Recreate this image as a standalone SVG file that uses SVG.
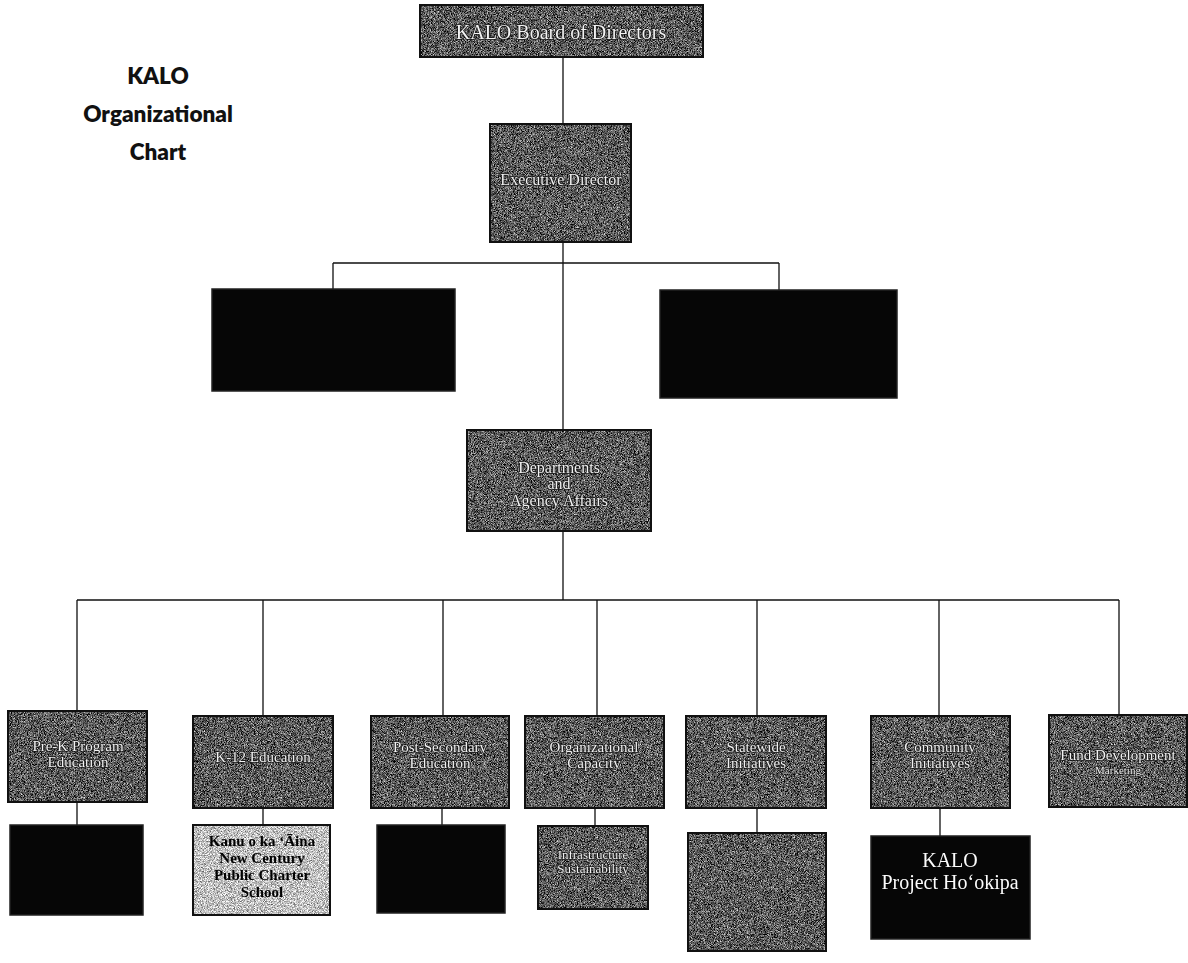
<svg xmlns="http://www.w3.org/2000/svg" width="1188" height="963" viewBox="0 0 1188 963">
<defs>
<filter id="grain" x="0" y="0" width="100%" height="100%" filterUnits="objectBoundingBox" color-interpolation-filters="sRGB">
<feTurbulence type="fractalNoise" baseFrequency="1.3" numOctaves="1" seed="4" result="n"/>
<feColorMatrix in="n" type="matrix" values="1.8 0 0 0 -0.55  1.8 0 0 0 -0.55  1.8 0 0 0 -0.55  0 0 0 0 1" result="t"/>
<feComposite in="t" in2="SourceGraphic" operator="in"/>
</filter>
<filter id="grainLight" x="0" y="0" width="100%" height="100%" filterUnits="objectBoundingBox" color-interpolation-filters="sRGB">
<feTurbulence type="fractalNoise" baseFrequency="1.3" numOctaves="1" seed="7" result="n"/>
<feColorMatrix in="n" type="matrix" values="1.5 0 0 0 0.0  1.5 0 0 0 0.0  1.5 0 0 0 0.0  0 0 0 0 1" result="t"/>
<feComposite in="t" in2="SourceGraphic" operator="in"/>
</filter>
</defs>
<style>
.g{fill:#fff;filter:url(#grain)}
.gl{fill:#fff;filter:url(#grainLight)}
.frame{fill:none;stroke:#111;stroke-width:2}
.blk{fill:#060606;stroke:#222;stroke-width:1.5}
.t{font-family:"Liberation Serif",serif;fill:#f4f4f4;stroke:#1a1a1a;stroke-width:1.6;stroke-linejoin:round;paint-order:stroke;text-anchor:middle;font-size:15px}
.tb{font-family:"Liberation Serif",serif;fill:#000;font-weight:bold;text-anchor:middle;font-size:15px}
.tw{font-family:"Liberation Serif",serif;fill:#fff;text-anchor:middle;font-size:20px}
.title{font-family:Lato,"Open Sans",sans-serif;font-weight:800;fill:#111;text-anchor:middle;font-size:22.5px}
.c{stroke:#111;stroke-width:1.3;fill:none}
.labels{opacity:0.99}
</style>
<rect width="1188" height="963" fill="#fff"/>
<g id="title">
<text class="title" x="158" y="84">KALO</text>
<text class="title" x="158" y="122">Organizational</text>
<text class="title" x="158" y="160">Chart</text>
</g>
<g id="connectors">
<path class="c" d="M563 57V124M563 242V430M333 263H779M333 263V289M779 263V290M563 531V600M77 600H1119M77 600V711M263 600V716M443 600V716M597 600V716M757 600V716M939 600V716M1119 600V715"/>
<path class="c" d="M77 802V825M263 808V825M442 808V825M595 808V826M757 808V833M940 808V836"/>
</g>
<g id="board">
<rect class="g" x="420" y="5" width="283" height="52"/>
<rect class="frame" x="420" y="5" width="283" height="52"/>
<g class="labels"><text class="t" x="561" y="39" style="font-size:20px">KALO Board of Directors</text></g>
</g>
<g id="executive">
<rect class="g" x="490" y="124" width="141" height="118"/>
<rect class="frame" x="490" y="124" width="141" height="118"/>
<g class="labels"><text class="t" x="561" y="185" style="font-size:16px">Executive Director</text></g>
</g>
<g id="left-black">
<rect class="blk" x="212" y="289" width="243" height="102"/>
</g>
<g id="right-black">
<rect class="blk" x="660" y="290" width="237" height="108"/>
</g>
<g id="departments">
<rect class="g" x="467" y="430" width="184" height="101"/>
<rect class="frame" x="467" y="430" width="184" height="101"/>
<g class="labels" style="font-size:16px">
<text class="t" x="559" y="473" style="font-size:16px">Departments</text>
<text class="t" x="559" y="489" style="font-size:16px">and</text>
<text class="t" x="559" y="506" style="font-size:16px">Agency Affairs</text>
</g>
</g>
<g id="prek">
<rect class="g" x="8" y="711" width="139" height="91"/>
<rect class="frame" x="8" y="711" width="139" height="91"/>
<g class="labels">
<text class="t" x="78" y="751">Pre-K Program</text>
<text class="t" x="78" y="767">Education</text>
</g>
</g>
<g id="k12">
<rect class="g" x="193" y="716" width="140" height="92"/>
<rect class="frame" x="193" y="716" width="140" height="92"/>
<g class="labels"><text class="t" x="263" y="762">K-12 Education</text></g>
</g>
<g id="postsecondary">
<rect class="g" x="371" y="716" width="138" height="92"/>
<rect class="frame" x="371" y="716" width="138" height="92"/>
<g class="labels">
<text class="t" x="440" y="752">Post-Secondary</text>
<text class="t" x="440" y="768">Education</text>
</g>
</g>
<g id="organizational">
<rect class="g" x="525" y="716" width="139" height="92"/>
<rect class="frame" x="525" y="716" width="139" height="92"/>
<g class="labels">
<text class="t" x="594" y="752">Organizational</text>
<text class="t" x="594" y="768">Capacity</text>
</g>
</g>
<g id="statewide">
<rect class="g" x="686" y="716" width="140" height="92"/>
<rect class="frame" x="686" y="716" width="140" height="92"/>
<g class="labels">
<text class="t" x="756" y="752">Statewide</text>
<text class="t" x="756" y="768">Initiatives</text>
</g>
</g>
<g id="community">
<rect class="g" x="871" y="716" width="139" height="92"/>
<rect class="frame" x="871" y="716" width="139" height="92"/>
<g class="labels">
<text class="t" x="940" y="752">Community</text>
<text class="t" x="940" y="768">Initiatives</text>
</g>
</g>
<g id="fund">
<rect class="g" x="1049" y="715" width="138" height="92"/>
<rect class="frame" x="1049" y="715" width="138" height="92"/>
<g class="labels">
<text class="t" x="1118" y="760" style="font-size:15px">Fund Development</text>
<text class="t" x="1118" y="774" style="font-size:11px;stroke-width:1.2">Marketing</text>
</g>
</g>
<g id="prek-child">
<rect class="blk" x="10" y="825" width="133" height="90"/>
</g>
<g id="kanu">
<rect class="gl" x="193" y="825" width="137" height="90"/>
<rect class="frame" x="193" y="825" width="137" height="90"/>
<g class="labels">
<text class="tb" x="262" y="846">Kanu o ka ʻĀina</text>
<text class="tb" x="262" y="863">New Century</text>
<text class="tb" x="262" y="880">Public Charter</text>
<text class="tb" x="262" y="897">School</text>
</g>
</g>
<g id="postsecondary-child">
<rect class="blk" x="377" y="825" width="128" height="88"/>
</g>
<g id="organizational-child">
<rect class="g" x="538" y="826" width="110" height="83"/>
<rect class="frame" x="538" y="826" width="110" height="83"/>
<g class="labels">
<text class="t" x="593" y="859" style="font-size:13px;stroke-width:1.4">Infrastructure</text>
<text class="t" x="593" y="873" style="font-size:13px;stroke-width:1.4">Sustainability</text>
</g>
</g>
<g id="statewide-child">
<rect class="g" x="688" y="833" width="138" height="118"/>
<rect class="frame" x="688" y="833" width="138" height="118"/>
</g>
<g id="hookipa">
<rect class="blk" x="871" y="836" width="159" height="103" stroke="#555" stroke-width="2"/>
<g class="labels">
<text class="tw" x="950" y="867">KALO</text>
<text class="tw" x="950" y="889">Project Hoʻokipa</text>
</g>
</g>
</svg>
